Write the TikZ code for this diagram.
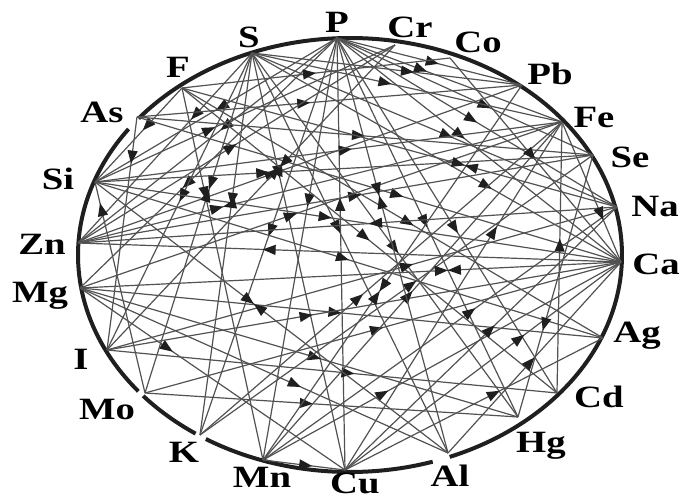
\documentclass[tikz,border=0pt]{standalone}
\usepackage{fontspec}
\usepackage{graphicx}
\setmainfont{Liberation Serif}
\usetikzlibrary{decorations.markings,arrows.meta}
\begin{document}
\begin{tikzpicture}[x=1pt,y=-1pt,
  edge/.style={draw=black!68,line width=1.2pt},
  marr/.style={postaction={decorate,decoration={markings,mark=at position #1 with {\arrow{Triangle[length=13pt,width=10pt,color=black!88]}}}}},
  mbow/.style={postaction={decorate,decoration={markings,mark=at position #1 with {\arrow{Triangle[length=13pt,width=10pt,color=black!88]}\arrowreversed{Triangle[length=13pt,width=10pt,color=black!88]}}}}},
  lab/.style={anchor=base,inner sep=0pt,font=\fontsize{31}{31}\selectfont\bfseries},
  rim/.style={line width=4pt,draw=black!88}]
\useasboundingbox (0,0) rectangle (681,502);
% element points on the circle
\coordinate (P)  at (337,38);
\coordinate (Cr) at (395,45);
\coordinate (Co) at (450,58);
\coordinate (Pb) at (522,85);
\coordinate (Fe) at (562,122);
\coordinate (Se) at (593,155);
\coordinate (Na) at (617,207);
\coordinate (Ca) at (621,262);
\coordinate (Ag) at (603,338);
\coordinate (Cd) at (557,393);
\coordinate (Hg) at (518,417);
\coordinate (Al) at (448,453);
\coordinate (Cu) at (345,470);
\coordinate (Mn) at (263,460);
\coordinate (K)  at (200,435);
\coordinate (Mo) at (145,393);
\coordinate (I)  at (107,350);
\coordinate (Mg) at (80,288);
\coordinate (Zn) at (78,243);
\coordinate (Si) at (95,182);
\coordinate (As) at (137,117);
\coordinate (F)  at (182,88);
\coordinate (S)  at (252,53);
% rim
\draw[rim] plot[domain=144.5:218.9,samples=50] ({350+272*cos(\x)},{255-217*sin(\x)});
\draw[rim] plot[domain=220.5:235.4,samples=20] ({350+272*cos(\x)},{255-217*sin(\x)});
\draw[rim] plot[domain=238:287.7,samples=40] ({350+272*cos(\x)},{255-217*sin(\x)});
\draw[rim] plot[domain=291.5:501,samples=150] ({350+272*cos(\x)},{255-217*sin(\x)});
% connectors
\foreach \a/\b/\p in {P/Zn/0.45,P/Si/0.5,P/Mg/0.6,P/K/0.5,P/Mn/0.4,Cu/P/0.63,P/Hg/0.5,
  P/Cd/0.55,P/Ca/0.45,P/Na/0.5,P/Se/0.6,P/Fe/0.4,P/Pb/0.55,
  S/Cu/0.3,S/Hg/0.55,S/Al/0.45,S/K/0.4,S/I/0.5,S/Zn/0.35,S/Pb/0.6,S/Fe/0.45,S/Na/0.55,S/Ca/0.65,
  F/Si/0.45,F/Cd/0.5,F/Ag/0.55,F/Mn/0.3,F/Co/0.5,
  As/I/0.2,As/Se/0.5,As/Pb/0.45,As/Ca/0.55,
  Si/Ca/0.45,Si/Cr/0.4,Si/Fe/0.55,Si/Ag/0.5,Mo/Si/0.9,
  Ca/Zn/0.66,Zn/Cr/0.5,Zn/Pb/0.45,Zn/Se/0.55,Na/Zn/0.46,
  Mg/Ag/0.5,Mg/Hg/0.55,Mg/Cu/0.35,Mg/Fe/0.45,Mg/Al/0.6,
  I/Ca/0.4,I/Cd/0.55,I/Na/0.6,
  Mo/Ca/0.5,Mo/Hg/0.45,
  K/Fe/0.45,K/Se/0.55,
  Mn/Fe/0.5,Mn/Ca/0.35,Mn/Na/0.6,Mn/Cu/0.6,
  Cu/Ca/0.65,Cu/Fe/0.7,Cu/Na/0.55,Cu/Ag/0.6,
  Al/Ca/0.5,Cd/Fe/0.57,Se/Hg/0.67,Fe/Ca/0.7,Co/Ca/0.5}
  \draw[edge,marr=\p] (\a) -- (\b);
\foreach \a/\b/\p in {Ca/Mg/0.32,P/Al/0.38,S/Mo/0.4,Zn/Fe/0.3,Si/Se/0.35,Cr/I/0.4,Pb/Mn/0.55,Al/Si/0.55,Na/F/0.35}
  \draw[edge,mbow=\p] (\a) -- (\b);
% labels
\node[lab] (lP)  at (337,33)  {\scalebox{1.25}[1]{P}};
\node[lab] (lCr) at (410,38)  {\scalebox{1.25}[1]{Cr}};
\node[lab] (lCo) at (478,53)  {\scalebox{1.25}[1]{Co}};
\node[lab] (lPb) at (550,85)  {\scalebox{1.25}[1]{Pb}};
\node[lab] (lFe) at (594,128) {\scalebox{1.25}[1]{Fe}};
\node[lab] (lSe) at (630,168) {\scalebox{1.25}[1]{Se}};
\node[lab] (lNa) at (655,217) {\scalebox{1.25}[1]{Na}};
\node[lab] (lCa) at (656,275) {\scalebox{1.25}[1]{Ca}};
\node[lab] (lAg) at (637,343) {\scalebox{1.25}[1]{Ag}};
\node[lab] (lCd) at (599,408) {\scalebox{1.25}[1]{Cd}};
\node[lab] (lHg) at (541,453) {\scalebox{1.25}[1]{Hg}};
\node[lab] (lAl) at (450,487) {\scalebox{1.25}[1]{Al}};
\node[lab] (lCu) at (355,494) {\scalebox{1.25}[1]{Cu}};
\node[lab] (lMn) at (262,488) {\scalebox{1.25}[1]{Mn}};
\node[lab] (lK)  at (184,463) {\scalebox{1.25}[1]{K}};
\node[lab] (lMo) at (107,420) {\scalebox{1.25}[1]{Mo}};
\node[lab] (lI)  at (81,370)  {\scalebox{1.25}[1]{I}};
\node[lab] (lMg) at (40,303)  {\scalebox{1.25}[1]{Mg}};
\node[lab] (lZn) at (42,255)  {\scalebox{1.25}[1]{Zn}};
\node[lab] (lSi) at (58,190)  {\scalebox{1.25}[1]{Si}};
\node[lab] (lAs) at (102,123) {\scalebox{1.25}[1]{As}};
\node[lab] (lF)  at (178,78)  {\scalebox{1.25}[1]{F}};
\node[lab] (lS)  at (249,48)  {\scalebox{1.25}[1]{S}};
\end{tikzpicture}
\end{document}
